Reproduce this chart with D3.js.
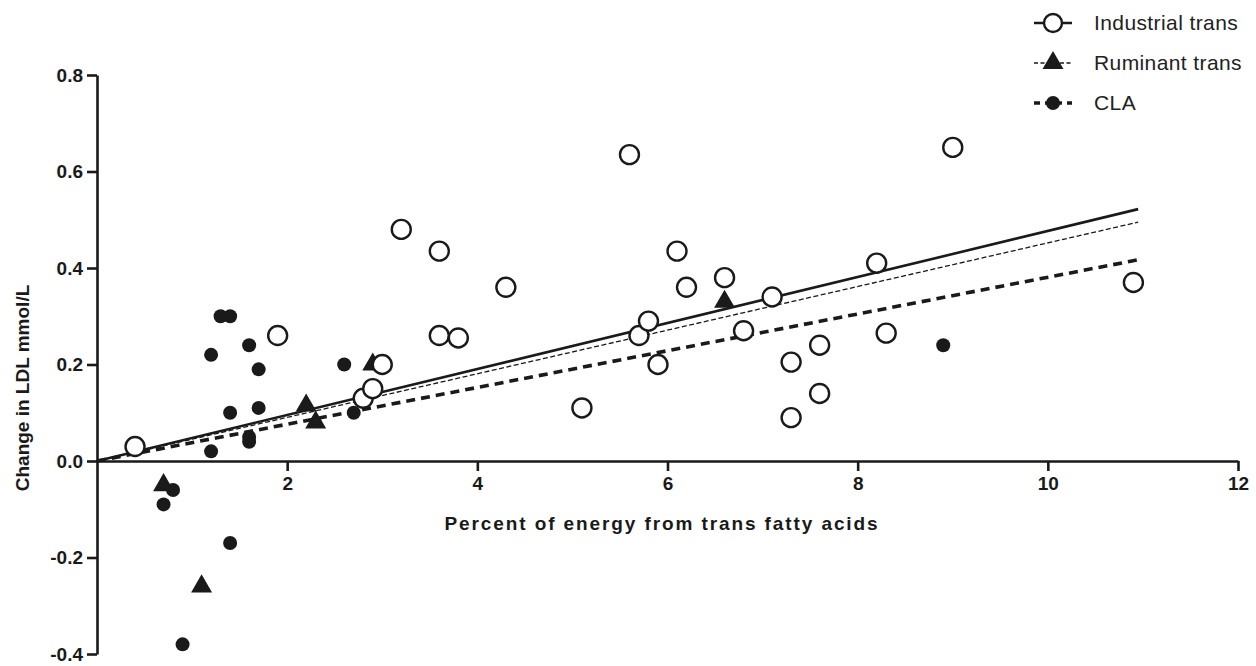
<!DOCTYPE html>
<html>
<head>
<meta charset="utf-8">
<script src="https://cdn.jsdelivr.net/npm/d3@7"></script>
<style>
  body { margin: 0; background: #fff; }
  svg { display: block; }
  text { font-family: "Liberation Sans", Arial, sans-serif; }
</style>
</head>
<body>
<svg id="chart" width="1256" height="666"></svg>
<script>
// ---- Data ----
const industrialX = [0.4, 1.9, 2.8, 2.9, 3.0, 3.2, 3.6, 3.6, 3.8, 4.3, 5.1, 5.6, 5.7, 5.8, 5.9, 6.1, 6.2, 6.6, 6.8, 7.1, 7.3, 7.3, 7.6, 7.6, 8.2, 8.3, 9.0, 10.9];
const industrialY = [0.03, 0.26, 0.13, 0.15, 0.20, 0.48, 0.435, 0.26, 0.255, 0.36, 0.11, 0.635, 0.26, 0.29, 0.20, 0.435, 0.36, 0.38, 0.27, 0.34, 0.09, 0.205, 0.24, 0.14, 0.41, 0.265, 0.65, 0.37];

const ruminantX = [0.7, 1.1, 2.2, 2.3, 2.9, 6.6];
const ruminantY = [-0.05, -0.26, 0.115, 0.08, 0.20, 0.33];

const claX = [0.7, 0.8, 0.9, 1.2, 1.2, 1.3, 1.4, 1.4, 1.4, 1.6, 1.6, 1.6, 1.7, 1.7, 2.6, 2.7, 8.9];
const claY = [-0.09, -0.06, -0.38, 0.22, 0.02, 0.30, 0.30, 0.10, -0.17, 0.24, 0.05, 0.04, 0.19, 0.11, 0.20, 0.10, 0.24];

// Regression lines (through origin), x range and end value
const fitX = [0, 10.95];
const industrialFit = [0, 0.522];
const ruminantFit = [0, 0.495];
const claFit = [0, 0.417];

const xTicks = [2, 4, 6, 8, 10, 12];
const yTicks = [-0.4, -0.2, 0.0, 0.2, 0.4, 0.6, 0.8];

const seriesNames = ["Industrial trans", "Ruminant trans", "CLA"];
const xTitle = "Percent of energy from trans fatty acids";
const yTitle = "Change in LDL mmol/L";

// ---- Drawing ----
const svg = d3.select("#chart");
const x = d3.scaleLinear().domain([0, 12]).range([97, 1238]);
const y = d3.scaleLinear().domain([-0.4, 0.8]).range([654, 75]);

const ink = "#1a1a1a";

// Axes
const yAxis = svg.append("g")
  .attr("transform", `translate(${x(0)},0)`)
  .call(d3.axisLeft(y).tickValues(yTicks).tickFormat(d => d.toFixed(1)).tickSize(10).tickSizeOuter(0).tickPadding(4));
const xAxis = svg.append("g")
  .attr("transform", `translate(0,${y(0)})`)
  .call(d3.axisBottom(x).tickValues(xTicks).tickFormat(d => String(d)).tickSize(10).tickSizeOuter(0).tickPadding(6));

[yAxis, xAxis].forEach(g => {
  g.select(".domain").attr("stroke", ink).attr("stroke-width", 2.6);
  g.selectAll(".tick line").attr("stroke", ink).attr("stroke-width", 2.6);
  g.selectAll(".tick text")
    .attr("fill", ink)
    .style("font-family", "'Liberation Sans', Arial, sans-serif")
    .style("font-weight", "bold")
    .style("font-size", "19px");
});

// Axis titles
svg.append("text")
  .attr("x", 662).attr("y", 530)
  .attr("text-anchor", "middle")
  .attr("fill", ink)
  .style("font-weight", "bold").style("font-size", "19px")
  .style("letter-spacing", "1.9px")
  .text(xTitle);

svg.append("text")
  .attr("transform", `translate(29,388) rotate(-90)`)
  .attr("text-anchor", "middle")
  .attr("fill", ink)
  .style("font-weight", "bold").style("font-size", "19px")
  .text(yTitle);

// Regression lines
const line = d3.line().x(d => x(d[0])).y(d => y(d[1]));
const fits = [
  { vals: claFit, width: 3.6, dash: "9,6" },
  { vals: ruminantFit, width: 1.3, dash: "5,2.5" },
  { vals: industrialFit, width: 2.6, dash: null }
];
fits.forEach(f => {
  svg.append("path")
    .datum(fitX.map((v, i) => [v, f.vals[i]]))
    .attr("d", line)
    .attr("fill", "none")
    .attr("stroke", ink)
    .attr("stroke-width", f.width)
    .attr("stroke-dasharray", f.dash);
});

// Points
const claPts = claX.map((v, i) => [v, claY[i]]);
const rumPts = ruminantX.map((v, i) => [v, ruminantY[i]]);
const indPts = industrialX.map((v, i) => [v, industrialY[i]]);

svg.append("g").selectAll("circle").data(claPts).join("circle")
  .attr("cx", d => x(d[0])).attr("cy", d => y(d[1]))
  .attr("r", 7).attr("fill", ink);

const tri = d3.symbol().type(d3.symbolTriangle).size(190);
svg.append("g").selectAll("path").data(rumPts).join("path")
  .attr("d", tri)
  .attr("transform", d => `translate(${x(d[0])},${y(d[1])})`)
  .attr("fill", ink);

svg.append("g").selectAll("circle").data(indPts).join("circle")
  .attr("cx", d => x(d[0])).attr("cy", d => y(d[1]))
  .attr("r", 9.5).attr("fill", "#fff").attr("stroke", ink).attr("stroke-width", 2.4);

// Legend
const legend = svg.append("g");
const legendStyles = [
  { width: 2.4, dash: null, sym: "circle" },
  { width: 1.3, dash: "4,2.5", sym: "triangle" },
  { width: 3.6, dash: "6,5", sym: "dot" }
];
seriesNames.forEach((name, i) => {
  const cy = 23 + i * 40;
  const st = legendStyles[i];
  legend.append("line")
    .attr("x1", 1034).attr("x2", 1072).attr("y1", cy).attr("y2", cy)
    .attr("stroke", ink).attr("stroke-width", st.width)
    .attr("stroke-dasharray", st.dash);
  if (st.sym === "circle") {
    legend.append("circle").attr("cx", 1053).attr("cy", cy).attr("r", 9)
      .attr("fill", "#fff").attr("stroke", ink).attr("stroke-width", 2.4);
  } else if (st.sym === "triangle") {
    legend.append("path").attr("d", tri)
      .attr("transform", `translate(1053,${cy})`).attr("fill", ink);
  } else {
    legend.append("circle").attr("cx", 1053).attr("cy", cy).attr("r", 7).attr("fill", ink);
  }
  legend.append("text")
    .attr("x", 1094).attr("y", cy + 7)
    .attr("fill", "#222")
    .style("font-size", "21px")
    .style("letter-spacing", "0.4px")
    .text(name);
});
</script>
</body>
</html>
